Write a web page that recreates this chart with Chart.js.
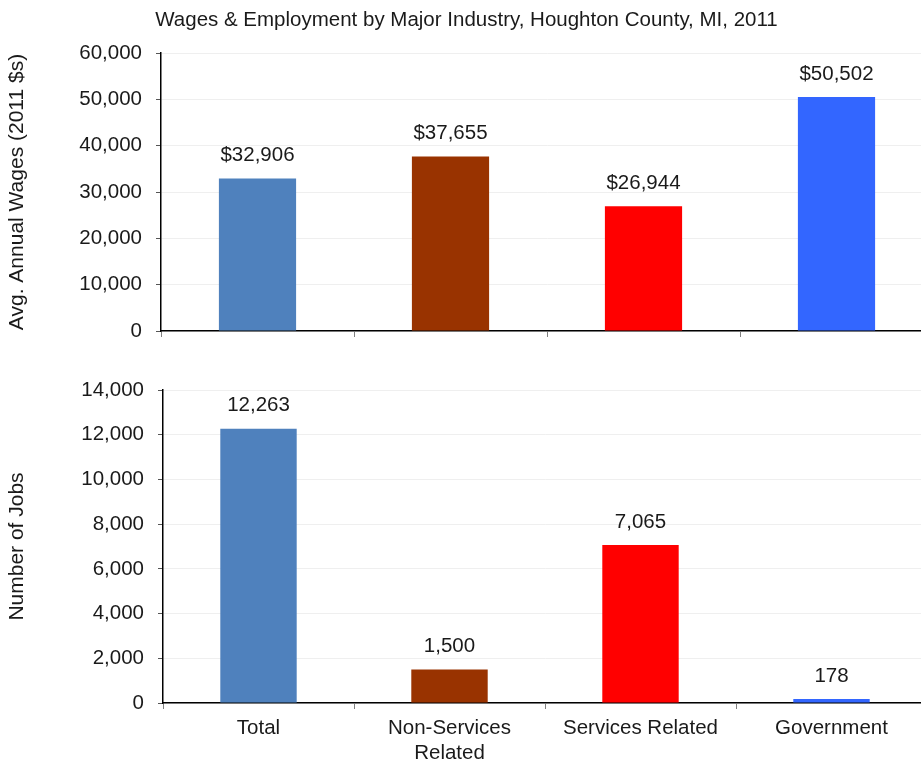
<!DOCTYPE html>
<html>
<head>
<meta charset="utf-8">
<script src="https://cdn.jsdelivr.net/npm/chart.js@4/dist/chart.umd.min.js"></script>
<style>
  html, body { margin: 0; padding: 0; background: #fff; overflow: hidden; }
  .box { position: absolute; left: 0; }
  #wagesBox { top: 0; width: 933px; height: 360px; }
  #jobsBox { top: 360px; width: 927px; height: 399px; }
</style>
</head>
<body>
<div class="box" id="wagesBox"><canvas id="wagesChart"></canvas></div>
<div class="box" id="jobsBox"><canvas id="jobsChart"></canvas></div>
<script>
const industries = ['Total', ['Non-Services', 'Related'], 'Services Related', 'Government'];
const barColors = ['#4f81bd', '#993300', '#ff0000', '#3366ff'];
const avgWages = [32906, 37655, 26944, 50502];
const jobCounts = [12263, 1500, 7065, 178];
const wageTicks = [0, 10000, 20000, 30000, 40000, 50000, 60000];
const jobTicks = [0, 2000, 4000, 6000, 8000, 10000, 12000, 14000];

const FONT = 'Liberation Sans, Arial, sans-serif';
const TEXT_SIZE = 20.5;
const fmt = new Intl.NumberFormat('en-US');

// value labels above each bar
const valueLabels = {
  id: 'valueLabels',
  afterDatasetsDraw(chart, args, options) {
    const { ctx } = chart;
    const meta = chart.getDatasetMeta(0);
    ctx.save();
    ctx.font = TEXT_SIZE + 'px ' + FONT;
    ctx.fillStyle = '#1a1a1a';
    ctx.textAlign = 'center';
    ctx.textBaseline = 'middle';
    meta.data.forEach(function (bar, i) {
      const v = chart.data.datasets[0].data[i];
      ctx.fillText((options.prefix || '') + fmt.format(v), bar.x, bar.y - 23);
    });
    ctx.restore();
  }
};

function makeChart(canvasId, opts) {
  return new Chart(document.getElementById(canvasId), {
    type: 'bar',
    plugins: [valueLabels],
    data: {
      labels: industries,
      datasets: [{
        data: opts.values,
        backgroundColor: barColors,
        barPercentage: 0.4,
        categoryPercentage: 1
      }]
    },
    options: {
      responsive: true,
      maintainAspectRatio: false,
      animation: false,
      layout: { padding: { top: opts.padTop || 0, right: 0, left: 0, bottom: 0 } },
      plugins: {
        legend: { display: false },
        tooltip: { enabled: false },
        valueLabels: { prefix: opts.prefix },
        title: opts.title ? {
          display: true,
          text: opts.title,
          color: '#1a1a1a',
          font: { family: FONT, size: TEXT_SIZE, weight: 'normal' },
          padding: { top: 8, bottom: 20.4 }
        } : { display: false }
      },
      scales: {
        x: {
          offset: true,
          grid: {
            display: true,
            offset: true,
            drawOnChartArea: false,
            tickLength: 6,
            tickColor: '#808080'
          },
          border: { display: true, color: '#000', width: 1.5 },
          ticks: {
            display: opts.showLabels,
            color: '#1a1a1a',
            padding: 7,
            maxRotation: 0,
            autoSkip: false,
            font: { family: FONT, size: TEXT_SIZE }
          },
          afterFit(scale) { scale.height = opts.xHeight; }
        },
        y: {
          min: 0,
          max: opts.ticks[opts.ticks.length - 1],
          afterBuildTicks(scale) {
            scale.ticks = opts.ticks.map(function (v) { return { value: v }; });
          },
          grid: {
            color: '#efefef',
            tickColor: '#555',
            tickLength: 5
          },
          border: { display: true, color: '#000', width: 1.5 },
          ticks: {
            color: '#1a1a1a',
            padding: 14,
            font: { family: FONT, size: TEXT_SIZE },
            callback(value) { return fmt.format(value); }
          },
          title: {
            display: true,
            text: opts.yTitle,
            color: '#1a1a1a',
            font: { family: FONT, size: 21 },
            padding: { top: 5, bottom: 0 }
          },
          afterFit(scale) { scale.width = opts.yWidth; }
        }
      }
    }
  });
}

makeChart('wagesChart', {
  values: avgWages,
  ticks: wageTicks,
  prefix: '$',
  title: 'Wages & Employment by Major Industry, Houghton County, MI, 2011',
  yTitle: 'Avg. Annual Wages (2011 $s)',
  showLabels: false,
  xHeight: 29,
  yWidth: 161
});

makeChart('jobsChart', {
  values: jobCounts,
  ticks: jobTicks,
  prefix: '',
  padTop: 30,
  yTitle: 'Number of Jobs',
  showLabels: true,
  xHeight: 56,
  yWidth: 163
});
</script>
</body>
</html>
